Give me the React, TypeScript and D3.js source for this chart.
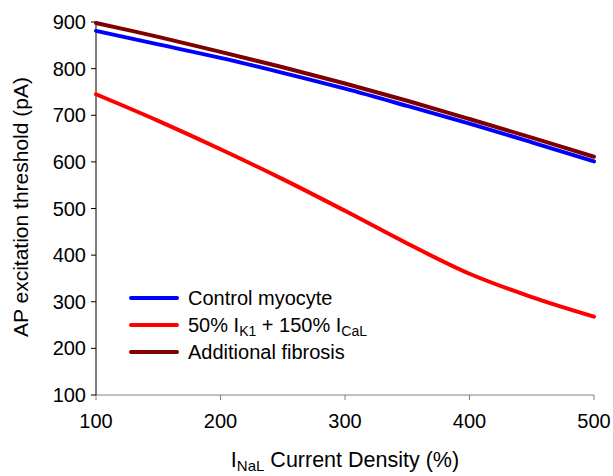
import React from "react";
import * as d3 from "d3";

const xValues = [100, 150, 200, 250, 300, 350, 400, 450, 500];
const control = [881, 852, 823, 791, 757, 720, 682, 642, 601];
const reduced = [745, 688, 627, 563, 495, 425, 360, 310, 268];
const fibrosis = [898, 868, 836, 803, 768, 731, 692, 652, 611];
const xTicks = [100, 200, 300, 400, 500];
const yTicks = [100, 200, 300, 400, 500, 600, 700, 800, 900];

const series = [
  { name: "control", values: control, color: "#0000ff" },
  { name: "reduced", values: reduced, color: "#ff0000" },
  { name: "fibrosis", values: fibrosis, color: "#7f0000" },
];

export default function App() {
  const W = 613, H = 476;
  const x = d3.scaleLinear().domain([100, 500]).range([96, 594]);
  const y = d3.scaleLinear().domain([100, 900]).range([395, 22]);
  const line = d3
    .line<[number, number]>()
    .x((d) => x(d[0]))
    .y((d) => y(d[1]))
    .curve(d3.curveCatmullRom.alpha(0.5));
  const font = "Arial, 'Liberation Sans', sans-serif";
  const legendY = [298, 325, 352];
  return (
    <svg width={W} height={H} style={{ position: "absolute", left: 0, top: 0 }} fontFamily={font}>
      {/* x axis */}
      <line x1={x(100)} x2={x(500)} y1={y(100)} y2={y(100)} stroke="#808080" strokeWidth={1} />
      {xTicks.map((t) => (
        <g key={t}>
          <line x1={x(t)} x2={x(t)} y1={y(100)} y2={y(100) + 5} stroke="#808080" />
          <text x={x(t)} y={428} textAnchor="middle" fontSize={20} fill="#000">
            {t}
          </text>
        </g>
      ))}
      {/* y axis */}
      <line x1={x(100)} x2={x(100)} y1={y(900)} y2={y(100)} stroke="#000" strokeWidth={1} />
      {yTicks.map((t) => (
        <g key={t}>
          <line x1={x(100) - 5} x2={x(100)} y1={y(t)} y2={y(t)} stroke="#000" />
          <text x={86} y={y(t) + 7} textAnchor="end" fontSize={20} fill="#000">
            {t}
          </text>
        </g>
      ))}
      {series.map((s) => (
        <path
          key={s.name}
          d={line(xValues.map((v, i) => [v, s.values[i]] as [number, number])) || ""}
          fill="none"
          stroke={s.color}
          strokeWidth={4}
          strokeLinecap="round"
        />
      ))}
      {/* legend */}
      {series.map((s, i) => (
        <line key={s.name} x1={131} x2={177} y1={legendY[i]} y2={legendY[i]} stroke={s.color} strokeWidth={4} strokeLinecap="round" />
      ))}
      <text x={188} y={legendY[0] + 7} fontSize={20}>Control myocyte</text>
      <text x={188} y={legendY[1] + 7} fontSize={20}>
        50% I<tspan dy={4} fontSize={14}>K1</tspan>
        <tspan dy={-4}> + 150% I</tspan>
        <tspan dy={4} fontSize={14}>CaL</tspan>
      </text>
      <text x={188} y={legendY[2] + 7} fontSize={20}>Additional fibrosis</text>
      {/* axis titles */}
      <text transform={`translate(28,207) rotate(-90)`} textAnchor="middle" fontSize={21}>
        AP excitation threshold (pA)
      </text>
      <text x={345} y={467} textAnchor="middle" fontSize={21.5}>
        I<tspan dy={4} fontSize={15}>NaL</tspan>
        <tspan dy={-4}> Current Density (%)</tspan>
      </text>
    </svg>
  );
}
